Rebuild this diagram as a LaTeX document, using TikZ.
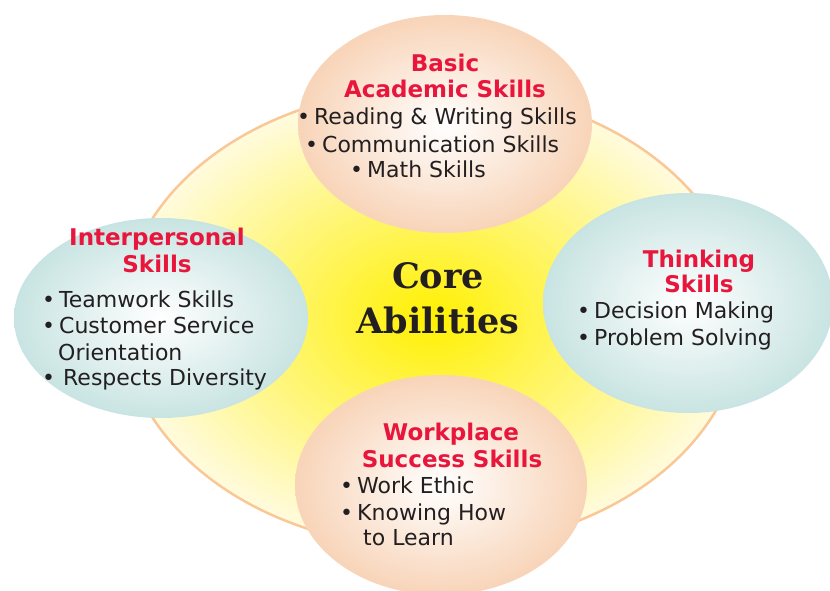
\documentclass[tikz,border=0pt]{standalone}
\usepackage{fontspec}
\setmainfont{DejaVu Sans}
\newfontfamily\titlefont{DejaVu Serif}
\usetikzlibrary{shapes.geometric}
\definecolor{peach}{RGB}{248,212,184}
\definecolor{aqua}{RGB}{200,228,226}
\definecolor{sunny}{RGB}{255,240,0}
\definecolor{cream}{RGB}{255,251,222}
\definecolor{rim}{RGB}{250,200,150}
\definecolor{headred}{RGB}{232,22,60}
\definecolor{ink}{RGB}{35,31,32}
\newcommand{\itm}{\textbullet\hspace{4pt}}
\begin{document}
\begin{tikzpicture}[x=1pt,y=-1pt,
  blob/.style={ellipse,inner sep=0pt,inner color=white},
  head/.style={text=headred,font=\bfseries\fontsize{23}{26}\selectfont,inner sep=0pt,anchor=base},
  body/.style={text=ink,font=\fontsize{22}{26}\selectfont,inner sep=0pt,anchor=base west},
  title/.style={text=ink,font=\titlefont\bfseries\fontsize{35}{40}\selectfont,inner sep=0pt,anchor=base}]
\useasboundingbox (0,0) rectangle (830,590);
\node[ellipse,draw=rim,line width=2.5pt,minimum width=620pt,minimum height=460pt,inner color=sunny,outer color=cream] (core) at (432,318) {};
\node[blob,minimum width=294pt,minimum height=218pt,outer color=peach] (basic) at (445,124) {};
\node[blob,minimum width=294pt,minimum height=200pt,outer color=aqua] (inter) at (161,318) {};
\node[blob,minimum width=290pt,minimum height=220pt,outer color=aqua] (think) at (688,303) {};
\node[blob,minimum width=292pt,minimum height=220pt,outer color=peach] (work) at (441,485) {};
% centre
\node[title] (coreA) at (438,288) {Core};
\node[title] (coreB) at (438,333) {Abilities};
% top
\node[head] (basicA) at (445,71) {Basic};
\node[head] (basicB) at (445,97) {Academic Skills};
\node[body] (read) at (297,124) {\itm Reading \& Writing Skills};
\node[body] (comm) at (305,152) {\itm Communication Skills};
\node[body] (math) at (350,177) {\itm Math Skills};
% left
\node[head] (interA) at (157,245) {Interpersonal};
\node[head] (interB) at (157,272) {Skills};
\node[body] (team) at (42,307) {\itm Teamwork Skills};
\node[body] (cust) at (42,333) {\itm Customer Service};
\node[body] (orient) at (58,360) {Orientation};
\node[body] (div) at (42,385) {\itm\hspace{4pt}Respects Diversity};
% right
\node[head] (thinkA) at (699,267) {Thinking};
\node[head] (thinkB) at (699,292) {Skills};
\node[body] (dec) at (577,318) {\itm Decision Making};
\node[body] (prob) at (577,345) {\itm Problem Solving};
% bottom
\node[head] (workA) at (451,440) {Workplace};
\node[head] (workB) at (452,467) {Success Skills};
\node[body] (ethic) at (340,493) {\itm Work Ethic};
\node[body] (know) at (340,520) {\itm Knowing How};
\node[body] (learn) at (363,545) {to Learn};
\end{tikzpicture}
\end{document}
